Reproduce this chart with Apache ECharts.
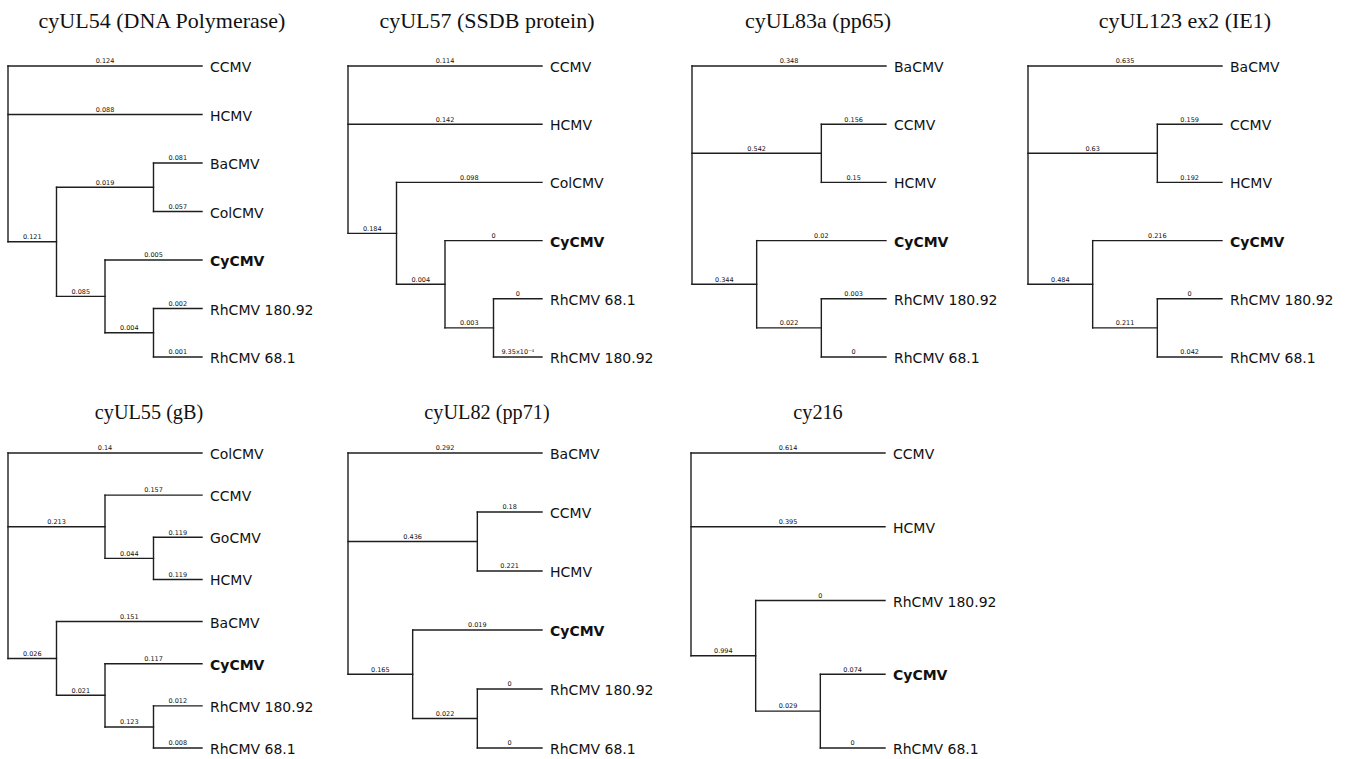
<!DOCTYPE html>
<html>
<head>
<meta charset="utf-8">
<style>
  html, body { margin: 0; padding: 0; background: #ffffff; }
  #chart { width: 1350px; height: 759px; }
</style>
<script src="https://cdn.jsdelivr.net/npm/echarts@6/dist/echarts.min.js"></script>
</head>
<body>
<div id="chart"></div>
<script>
// ---- Data: panel titles and trees (Newick, branch labels as printed) ----
const titles = [
  'cyUL54 (DNA Polymerase)', 'cyUL57 (SSDB protein)', 'cyUL83a (pp65)', 'cyUL123 ex2 (IE1)',
  'cyUL55 (gB)', 'cyUL82 (pp71)', 'cy216'
];
const treeUL54  = "(CCMV:0.124,HCMV:0.088,((BaCMV:0.081,ColCMV:0.057):0.019,(CyCMV:0.005,(RhCMV 180.92:0.002,RhCMV 68.1:0.001):0.004):0.085):0.121);";
const treeUL57  = "(CCMV:0.114,HCMV:0.142,(ColCMV:0.098,(CyCMV:0,(RhCMV 68.1:0,RhCMV 180.92:9.35x10⁻⁴):0.003):0.004):0.184);";
const treeUL83a = "(BaCMV:0.348,(CCMV:0.156,HCMV:0.15):0.542,(CyCMV:0.02,(RhCMV 180.92:0.003,RhCMV 68.1:0):0.022):0.344);";
const treeUL123 = "(BaCMV:0.635,(CCMV:0.159,HCMV:0.192):0.63,(CyCMV:0.216,(RhCMV 180.92:0,RhCMV 68.1:0.042):0.211):0.484);";
const treeUL55  = "(ColCMV:0.14,(CCMV:0.157,(GoCMV:0.119,HCMV:0.119):0.044):0.213,(BaCMV:0.151,(CyCMV:0.117,(RhCMV 180.92:0.012,RhCMV 68.1:0.008):0.123):0.021):0.026);";
const treeUL82  = "(BaCMV:0.292,(CCMV:0.18,HCMV:0.221):0.436,(CyCMV:0.019,(RhCMV 180.92:0,RhCMV 68.1:0):0.022):0.165);";
const tree216   = "(CCMV:0.614,HCMV:0.395,(RhCMV 180.92:0,(CyCMV:0.074,RhCMV 68.1:0):0.029):0.994);";
const trees = [treeUL54, treeUL57, treeUL83a, treeUL123, treeUL55, treeUL82, tree216];
const boldTaxa = ['CyCMV'];

// ---- Layout (pixels) ----
const panelLeft  = [8, 348, 692, 1028, 8, 348, 691];
const panelRow   = [0, 0, 0, 0, 1, 1, 1];
const rowTop     = [66, 453];
const rowBottom  = [357, 748];
const treeWidth  = 194;
const titleX     = [162, 487, 818, 1185, 149, 487, 818];
const titleY     = [20.5, 412];
const titleScaleX = [1, 0.92];

const LINE = '#1e1e1e';
const TEXT = '#111111';

function parseNewick(s) {
  let i = 0;
  function node() {
    const n = { children: [] };
    if (s[i] === '(') {
      i++;
      n.children.push(node());
      while (s[i] === ',') { i++; n.children.push(node()); }
      i++; // ')'
    }
    let name = '';
    while (i < s.length && !',():;'.includes(s[i])) name += s[i++];
    n.name = name.trim();
    if (s[i] === ':') {
      i++;
      let len = '';
      while (i < s.length && !',();'.includes(s[i])) len += s[i++];
      n.length = len.trim();
    }
    return n;
  }
  return node();
}

function layoutTree(root) {
  let leafIdx = 0;
  function heights(n) {
    if (!n.children.length) { n.h = 0; n.y = leafIdx++; return; }
    n.children.forEach(heights);
    n.h = 1 + Math.max(...n.children.map(c => c.h));
    n.y = (n.children[0].y + n.children[n.children.length - 1].y) / 2;
  }
  heights(root);
  const H = root.h;
  const nodes = [];
  function walk(n, parent) {
    n.x = H - n.h;
    nodes.push({
      x: n.x, y: n.y,
      px: parent ? parent.x : -1,
      minY: n.children.length ? n.children[0].y : -1,
      maxY: n.children.length ? n.children[n.children.length - 1].y : -1,
      isLeaf: !n.children.length,
      isRoot: !parent,
      name: n.name,
      label: n.length
    });
    n.children.forEach(c => walk(c, n));
  }
  walk(root, null);
  return { nodes, H, nLeaves: leafIdx };
}

const option = {
  animation: false,
  backgroundColor: '#ffffff',
  grid: [], xAxis: [], yAxis: [], series: [], graphic: []
};

trees.forEach((nw, k) => {
  const { nodes, H, nLeaves } = layoutTree(parseNewick(nw));
  const row = panelRow[k];
  option.grid.push({
    left: panelLeft[k], top: rowTop[row], width: treeWidth,
    height: rowBottom[row] - rowTop[row]
  });
  option.xAxis.push({ type: 'value', gridIndex: k, min: 0, max: H, show: false });
  option.yAxis.push({ type: 'value', gridIndex: k, min: 0, max: nLeaves - 1, inverse: true, show: false });
  option.series.push({
    type: 'custom',
    xAxisIndex: k, yAxisIndex: k,
    clip: false,
    silent: true,
    encode: { x: 0, y: 1 },
    data: nodes.map(n => [n.x, n.y, n.px, n.minY, n.maxY]),
    renderItem: function (params, api) {
      const n = nodes[params.dataIndex];
      const children = [];
      const p = api.coord([n.x, n.y]);
      const lineStyle = { stroke: LINE, lineWidth: 1.4, lineCap: 'square' };
      if (!n.isRoot) {
        const pp = api.coord([n.px, n.y]);
        children.push({ type: 'line', shape: { x1: pp[0], y1: p[1], x2: p[0], y2: p[1] }, style: lineStyle });
        children.push({
          type: 'text',
          style: {
            x: (pp[0] + p[0]) / 2, y: p[1] - 1.2,
            text: n.label, fill: TEXT,
            fontSize: 6.5, fontFamily: 'DejaVu Sans',
            align: 'center', verticalAlign: 'bottom'
          }
        });
      }
      if (!n.isLeaf) {
        const a = api.coord([n.x, n.minY]);
        const b = api.coord([n.x, n.maxY]);
        children.push({ type: 'line', shape: { x1: a[0], y1: a[1], x2: b[0], y2: b[1] }, style: lineStyle });
      } else {
        children.push({
          type: 'text',
          style: {
            x: p[0] + 8, y: p[1] + 1,
            text: n.name, fill: TEXT,
            fontSize: 14, fontFamily: 'DejaVu Sans',
            fontWeight: boldTaxa.includes(n.name) ? 'bold' : 'normal',
            align: 'left', verticalAlign: 'middle'
          }
        });
      }
      return { type: 'group', children };
    }
  });
  option.graphic.push({
    type: 'text',
    x: titleX[k], y: titleY[row],
    scaleX: titleScaleX[row],
    silent: true,
    style: {
      text: titles[k], fill: TEXT,
      fontSize: 22, fontFamily: 'Liberation Serif',
      align: 'center', verticalAlign: 'middle'
    }
  });
});

const chart = echarts.init(document.getElementById('chart'), null, { renderer: 'svg' });
chart.setOption(option);
</script>
</body>
</html>
